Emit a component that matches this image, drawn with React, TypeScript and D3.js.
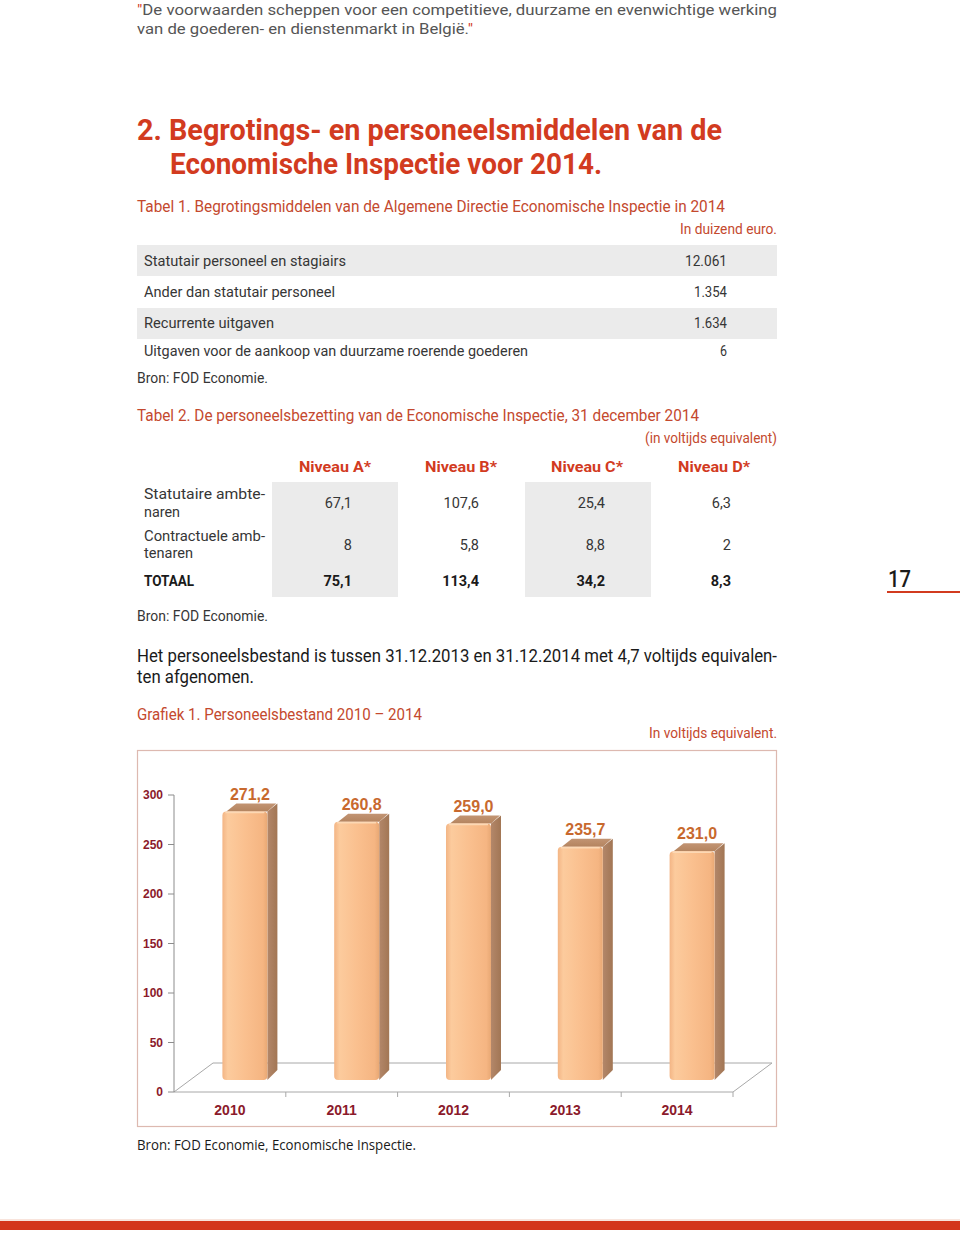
import React from 'react';
import * as d3 from 'd3';

// ---------- data ----------
const years = ['2010', '2011', '2012', '2013', '2014'];
const staff = [271.2, 260.8, 259.0, 235.7, 231.0];
const yTicks = [0, 50, 100, 150, 200, 250, 300];

const budgetLabels = [
  'Statutair personeel en stagiairs',
  'Ander dan statutair personeel',
  'Recurrente uitgaven',
  'Uitgaven voor de aankoop van duurzame roerende goederen',
];
const budgetValues = ['12.061', '1.354', '1.634', '6'];

const levels = ['Niveau A*', 'Niveau B*', 'Niveau C*', 'Niveau D*'];
const statutory = ['67,1', '107,6', '25,4', '6,3'];
const contractual = ['8', '5,8', '8,8', '2'];
const totals = ['75,1', '113,4', '34,2', '8,3'];

// ---------- helpers ----------
const RED = '#D23B1F';
const CAP = '#C4492E';
const TXT = '#363636';
const FONT = 'Roboto, sans-serif';
const nl = d3.formatLocale({ decimal: ',', thousands: '.', grouping: [3], currency: ['', ''] });
const fmt = nl.format('.1f');

type TP = {
  x: number; y: number; w?: number; anchor?: 'start' | 'middle' | 'end';
  size: number; weight?: number | string; fill?: string; family?: string; children: React.ReactNode;
};
const T = ({ x, y, w, anchor = 'start', size, weight = 400, fill = TXT, family = FONT, children }: TP) => (
  <text
    x={x}
    y={y}
    textAnchor={anchor}
    fontSize={size}
    fontWeight={weight}
    fill={fill}
    fontFamily={family}
    {...(w ? { textLength: w, lengthAdjust: 'spacingAndGlyphs' } : {})}
  >
    {children}
  </text>
);

// chart geometry
const X0 = 174, X1 = 733;
const DX = 39, DY = -29; // floor depth
const x = d3.scaleBand<string>().domain(years).range([X0, X1]).paddingInner(0).paddingOuter(0);
const y = d3.scaleLinear().domain([0, 300]).range([1092, 795]);
const LIFT = 12; // bars sit inside the floor depth
const SHIFT = 15;
const BW = 45; // front face width
const SD = 10; // side depth x
const SDY = -8; // side depth y

export default function App() {
  const rowLabelsT2 = [
    ['Statutaire ambte-', 'naren'],
    ['Contractuele amb-', 'tenaren'],
  ];
  const colRight = [352, 479, 605, 731];
  const colCenter = [335, 461, 587, 714];
  return (
    <svg width={960} height={1233} style={{ position: 'absolute', left: 0, top: 0, background: '#fff' }}>
      <defs>
        <linearGradient id="front" x1="0" x2="1" y1="0" y2="0">
          <stop offset="0" stopColor="#F3B585" />
          <stop offset="0.12" stopColor="#FCCB9D" />
          <stop offset="0.5" stopColor="#FAC08F" />
          <stop offset="0.9" stopColor="#F5B582" />
          <stop offset="1" stopColor="#E8A874" />
        </linearGradient>
        <linearGradient id="side" x1="0" x2="1" y1="0" y2="0">
          <stop offset="0" stopColor="#B3876A" />
          <stop offset="1" stopColor="#A27654" />
        </linearGradient>
        <linearGradient id="top" x1="0" x2="0" y1="0" y2="1">
          <stop offset="0" stopColor="#C29473" />
          <stop offset="1" stopColor="#B4845F" />
        </linearGradient>
      </defs>

      {/* quote */}
      <text x={137} y={15} fontSize={15} fill="#555555" fontFamily={FONT} textLength={640} lengthAdjust="spacingAndGlyphs">
        <tspan fill={RED}>"</tspan>De voorwaarden scheppen voor een competitieve, duurzame en evenwichtige werking
      </text>
      <text x={137} y={34} fontSize={15} fill="#555555" fontFamily={FONT} textLength={336} lengthAdjust="spacingAndGlyphs">
        van de goederen- en dienstenmarkt in België.<tspan fill={RED}>"</tspan>
      </text>

      {/* heading */}
      <T x={137} y={140} w={585} size={29} weight={700} fill={RED}>2. Begrotings- en personeelsmiddelen van de</T>
      <T x={170} y={174} w={432} size={29} weight={700} fill={RED}>Economische Inspectie voor 2014.</T>

      {/* table 1 */}
      <T x={137} y={212} w={588} size={16} fill={CAP}>Tabel 1. Begrotingsmiddelen van de Algemene Directie Economische Inspectie in 2014</T>
      <T x={777} y={234} w={97} anchor="end" size={14} fill={CAP}>In duizend euro.</T>
      <rect x={137} y={245} width={640} height={31} fill="#EBEBEB" />
      <rect x={137} y={308} width={640} height={31} fill="#EBEBEB" />
      {budgetLabels.map((l, i) => {
        const yy = [266, 297, 328, 356][i];
        const lw = [202, 191, 130, 384][i];
        const vw = [42, 33, 33, 7][i];
        return (
          <g key={l}>
            <T x={144} y={yy} w={lw} size={14.5}>{l}</T>
            <T x={727} y={yy} w={vw} anchor="end" size={14.5}>{budgetValues[i]}</T>
          </g>
        );
      })}
      <T x={137} y={383} w={131} size={14.5}>Bron: FOD Economie.</T>

      {/* table 2 */}
      <T x={137} y={421} w={562} size={16} fill={CAP}>Tabel 2. De personeelsbezetting van de Economische Inspectie, 31 december 2014</T>
      <T x={777} y={443} w={132} anchor="end" size={14} fill={CAP}>(in voltijds equivalent)</T>
      {levels.map((l, i) => (
        <T key={l} x={colCenter[i]} y={472} w={72} anchor="middle" size={15.5} weight={700} fill={RED}>{l}</T>
      ))}
      <rect x={272} y={482} width={126} height={115} fill="#EBEBEB" />
      <rect x={525} y={482} width={126} height={115} fill="#EBEBEB" />
      {rowLabelsT2.map((ls, i) => (
        <g key={i}>
          <T x={144} y={[499, 541][i]} w={121} size={14.5}>{ls[0]}</T>
          <T x={144} y={[517, 558][i]} w={[36, 49][i]} size={14.5}>{ls[1]}</T>
        </g>
      ))}
      <T x={144} y={586} w={50} size={14.5} weight={700} fill="#1a1a1a">TOTAAL</T>
      {statutory.map((v, i) => (
        <T key={'s' + i} x={colRight[i]} y={508} anchor="end" size={14.5}>{v}</T>
      ))}
      {contractual.map((v, i) => (
        <T key={'c' + i} x={colRight[i]} y={550} anchor="end" size={14.5}>{v}</T>
      ))}
      {totals.map((v, i) => (
        <T key={'t' + i} x={colRight[i]} y={586} anchor="end" size={14.5} weight={700} fill="#1a1a1a">{v}</T>
      ))}
      <T x={137} y={621} w={131} size={14.5}>Bron: FOD Economie.</T>

      {/* page number */}
      <T x={888} y={587} w={23} size={24} weight={500} fill="#1a1a1a">17</T>
      <line x1={887} x2={960} y1={592} y2={592} stroke={RED} strokeWidth={2} />

      {/* paragraph */}
      <T x={137} y={662} w={640} size={18} fill="#1a1a1a">Het personeelsbestand is tussen 31.12.2013 en 31.12.2014 met 4,7 voltijds equivalen-</T>
      <T x={137} y={683} w={117} size={18} fill="#1a1a1a">ten afgenomen.</T>

      {/* chart captions */}
      <T x={137} y={720} w={285} size={16} fill={CAP}>Grafiek 1. Personeelsbestand 2010 – 2014</T>
      <T x={777} y={738} w={128} anchor="end" size={14} fill={CAP}>In voltijds equivalent.</T>

      {/* chart box */}
      <rect x={137.5} y={750.5} width={639} height={376} fill="#fff" stroke="#DDB9B0" strokeWidth={1.2} />

      {/* floor */}
      <g stroke="#A8A8A8" strokeWidth={1} fill="none">
        <line x1={X0} y1={y(0)} x2={X1} y2={y(0)} />
        <line x1={X0} y1={y(0)} x2={X0 + DX} y2={y(0) + DY} />
        <line x1={X0 + DX} y1={y(0) + DY} x2={X1 + DX} y2={y(0) + DY} />
        <line x1={X1} y1={y(0)} x2={X1 + DX} y2={y(0) + DY} />
        {years.map((yr) => (
          <line key={yr} x1={(x(yr) as number) + x.bandwidth()} x2={(x(yr) as number) + x.bandwidth()} y1={y(0)} y2={y(0) + 5} />
        ))}
      </g>

      {/* y axis */}
      <g>
        <line x1={X0} x2={X0} y1={y(300)} y2={y(0)} stroke="#8C8C8C" />
        {yTicks.map((t) => (
          <g key={t}>
            <line x1={X0 - 6} x2={X0} y1={y(t)} y2={y(t)} stroke="#8C8C8C" />
            <text x={163} y={y(t) + 4} textAnchor="end" fontSize={12} fontWeight={700} fill="#8B1A2B" fontFamily="'Liberation Sans', Arial, sans-serif">
              {t}
            </text>
          </g>
        ))}
      </g>

      {/* bars */}
      {years.map((yr, i) => {
        const v = staff[i];
        const cx = (x(yr) as number) + x.bandwidth() / 2 + SHIFT;
        const fx = cx - BW / 2;
        const top = y(v) - LIFT;
        const bot = y(0) - LIFT;
        const r = 4;
        const side = `M${fx + BW},${top} L${fx + BW + SD},${top + SDY} L${fx + BW + SD},${bot + SDY - 2} L${fx + BW},${bot} Z`;
        const topFace = `M${fx + r},${top} L${fx + SD + r},${top + SDY} L${fx + BW + SD - 1},${top + SDY} L${fx + BW},${top} Z`;
        return (
          <g key={yr}>
            <path d={side} fill="url(#side)" />
            <path d={topFace} fill="url(#top)" />
            <rect x={fx} y={top} width={BW} height={bot - top} rx={r} ry={r} fill="url(#front)" />
            <line x1={fx + 3} x2={fx + BW - 3} y1={top + 1} y2={top + 1} stroke="#FCD8B4" strokeWidth={1.5} />
            <text
              x={cx + SD / 2}
              y={top + SDY - 4}
              textAnchor="middle"
              fontSize={16}
              fontWeight={700}
              fill="#C8692E"
              fontFamily="'Liberation Sans', Arial, sans-serif"
            >
              {fmt(v)}
            </text>
          </g>
        );
      })}

      {/* x labels */}
      {years.map((yr) => (
        <text
          key={yr}
          x={(x(yr) as number) + x.bandwidth() / 2}
          y={1115}
          textAnchor="middle"
          fontSize={14}
          fontWeight={700}
          fill="#8B1A2B"
          fontFamily="'Liberation Sans', Arial, sans-serif"
        >
          {yr}
        </text>
      ))}

      <T x={137} y={1150} w={279} size={15} fill="#1a1a1a" family="'Open Sans', sans-serif">Bron: FOD Economie, Economische Inspectie.</T>

      {/* bottom band */}
      <rect x={0} y={1221} width={960} height={9} fill="#D3361B" />
      <line x1={0} x2={960} y1={1220} y2={1220} stroke="#F0C9B8" />
    </svg>
  );
}
